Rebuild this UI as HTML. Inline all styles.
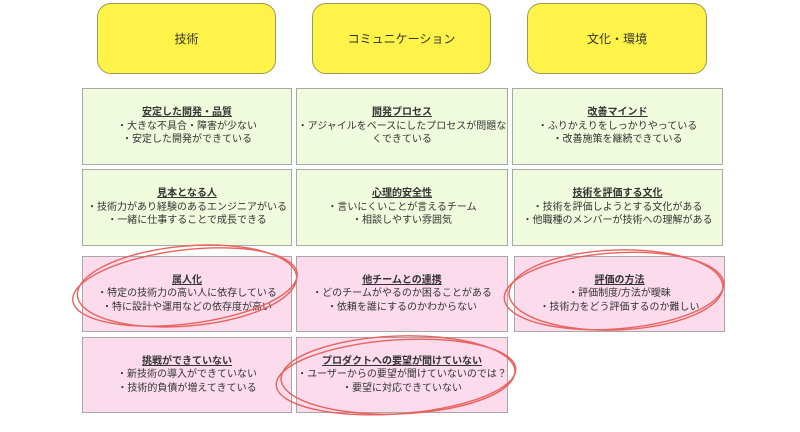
<!DOCTYPE html>
<html><head><meta charset="utf-8"><style>
body{margin:0;width:800px;height:432px;background:#fff;position:relative;overflow:hidden;font-family:"Liberation Sans","Noto Sans CJK JP",sans-serif;}
.y{position:absolute;background:#fff249;border:1px solid #9a9a50;border-radius:14px;display:flex;align-items:center;justify-content:center;font-size:12px;color:#333;box-sizing:border-box;}
.b{position:absolute;border:1.5px solid #a8a8a8;box-sizing:border-box;display:flex;flex-direction:column;align-items:center;justify-content:center;font-size:10px;line-height:13.5px;color:#333;text-align:center;white-space:nowrap;}
.g{background:#f0fadc;}
.p{background:#fcdcec;}
.b u{font-weight:bold;}
svg{position:absolute;left:0;top:0;}
</style></head><body>
<div class="y" style="left:97px;top:3px;width:179px;height:71px">技術</div>
<div class="y" style="left:312px;top:3px;width:179px;height:71px">コミュニケーション</div>
<div class="y" style="left:527px;top:3px;width:180px;height:71px">文化・環境</div>

<div class="b g" style="left:82px;top:88px;width:210px;height:77px"><u>安定した開発・品質</u><span>・大きな不具合・障害が少ない</span><span>・安定した開発ができている</span></div>
<div class="b g" style="left:296px;top:88px;width:212px;height:77px"><u>開発プロセス</u><span>・アジャイルをベースにしたプロセスが問題な</span><span>くできている</span></div>
<div class="b g" style="left:512px;top:88px;width:211px;height:77px"><u>改善マインド</u><span>・ふりかえりをしっかりやっている</span><span>・改善施策を継続できている</span></div>

<div class="b g" style="left:82px;top:169px;width:210px;height:77px"><u>見本となる人</u><span>・技術力があり経験のあるエンジニアがいる</span><span>・一緒に仕事することで成長できる</span></div>
<div class="b g" style="left:296px;top:169px;width:212px;height:77px"><u>心理的安全性</u><span>・言いにくいことが言えるチーム</span><span>・相談しやすい雰囲気</span></div>
<div class="b g" style="left:512px;top:169px;width:211px;height:77px"><u>技術を評価する文化</u><span>・技術を評価しようとする文化がある</span><span>・他職種のメンバーが技術への理解がある</span></div>

<div class="b p" style="left:82px;top:256px;width:210px;height:76px"><u>属人化</u><span>・特定の技術力の高い人に依存している</span><span>・特に設計や運用などの依存度が高い</span></div>
<div class="b p" style="left:296px;top:256px;width:212px;height:76px"><u>他チームとの連携</u><span>・どのチームがやるのか困ることがある</span><span>・依頼を誰にするのかわからない</span></div>
<div class="b p" style="left:514px;top:256px;width:211px;height:76px"><u>評価の方法</u><span>・評価制度/方法が曖昧</span><span>・技術力をどう評価するのか難しい</span></div>

<div class="b p" style="left:82px;top:337px;width:210px;height:76px"><u>挑戦ができていない</u><span>・新技術の導入ができていない</span><span>・技術的負債が増えてきている</span></div>
<div class="b p" style="left:296px;top:337px;width:212px;height:76px"><u>プロダクトへの要望が聞けていない</u><span>・ユーザーからの要望が聞けていないのでは？</span><span>・要望に対応できていない</span></div>

<svg width="800" height="432" fill="none" stroke="#e8625e" stroke-width="1.4">
<ellipse cx="185" cy="287" rx="113" ry="37" transform="rotate(-7 185 287)"/>
<ellipse cx="187" cy="286" rx="110" ry="40" transform="rotate(-5 187 286)"/>
<ellipse cx="396" cy="377" rx="120" ry="37" transform="rotate(-4 396 377)"/>
<ellipse cx="398" cy="375" rx="117" ry="39" transform="rotate(-2 398 375)"/>
<ellipse cx="614" cy="291" rx="110" ry="38" transform="rotate(-4 614 291)"/>
<ellipse cx="616" cy="290" rx="107" ry="40" transform="rotate(-2 616 290)"/>
</svg>
</body></html>
